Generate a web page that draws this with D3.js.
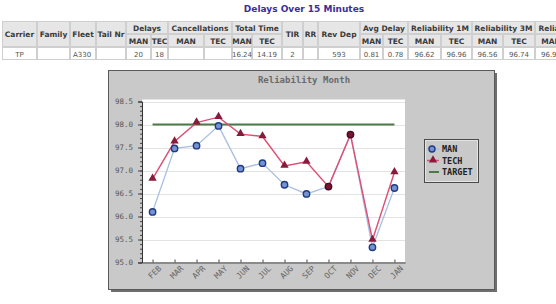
<!DOCTYPE html>
<html>
<head>
<meta charset="utf-8">
<script src="https://cdn.jsdelivr.net/npm/d3@7"></script>
<style>
  body { margin: 0; background: #fff; }
  svg { display: block; }
</style>
</head>
<body>
<div id="chart"></div>
<script>
// data
var months = ["FEB", "MAR", "APR", "MAY", "JUN", "JUL", "AUG", "SEP", "OCT", "NOV", "DEC", "JAN"];
var manValues = [96.1, 97.48, 97.54, 97.97, 97.04, 97.16, 96.69, 96.49, 96.65, 97.78, 95.33, 96.62];
var techValues = [96.82, 97.63, 98.04, 98.16, 97.79, 97.74, 97.1, 97.19, 96.65, 97.78, 95.49, 96.96];
var targetValue = 98.0;
var yTicks = [95.0, 95.5, 96.0, 96.5, 97.0, 97.5, 98.0, 98.5];

// table
var fixedCols = ["Carrier", "Family", "Fleet", "Tail Nr"];
var groupCols = ["Delays", "Cancellations", "Total Time"];
var midCols = ["TIR", "RR", "Rev Dep"];
var groupCols2 = ["Avg Delay", "Reliability 1M", "Reliability 3M", "Reliability 6M"];
var subCols = ["MAN", "TEC"];
var rowValues = ["TP", "", "A330", "", "20", "18", "", "", "16.24", "14.19", "2", "", "593",
                 "0.81", "0.78", "96.62", "96.96", "96.56", "96.74", "96.92", "96.98"];

var svgWidth = 556;
var svgHeight = 304;

var svg = d3.select("#chart")
  .append("svg")
  .attr("width", svgWidth)
  .attr("height", svgHeight);

// ---- title + table ----
svg.append("text")
  .attr("x", 304)
  .attr("y", 12)
  .attr("text-anchor", "middle")
  .style("font-family", "DejaVu Sans")
  .style("font-weight", "bold")
  .style("font-size", "9px")
  .style("fill", "#3b2e9a")
  .text("Delays Over 15 Minutes");

// column edges (layout only)
var colEdges = [2, 37, 70, 96, 126, 151, 168, 204, 232, 252, 282, 303, 318, 360, 383, 408, 441, 472, 503, 535, 567, 600];
var rowTop = 21, rowMid = 34, rowBot = 47, rowEnd = 60;

var table = svg.append("g");
var headFont = function(t) {
  return t.style("font-family", "DejaVu Sans")
    .style("font-weight", "bold")
    .style("font-size", "7.5px")
    .style("fill", "#3a3a3a")
    .attr("text-anchor", "middle");
};

function cell(x0, x1, y0, y1, fill) {
  table.append("rect")
    .attr("x", x0 + 0.5)
    .attr("y", y0 + 0.5)
    .attr("width", x1 - x0 - 1)
    .attr("height", y1 - y0 - 1)
    .attr("fill", fill)
    .attr("stroke", "#cfcfcf");
}

// header columns: fixed ones span two rows
var headerLayout = [];
fixedCols.forEach(function(c) { headerLayout.push({ name: c, span: 1, group: false }); });
groupCols.forEach(function(c) { headerLayout.push({ name: c, span: 2, group: true }); });
midCols.forEach(function(c) { headerLayout.push({ name: c, span: 1, group: false }); });
groupCols2.forEach(function(c) { headerLayout.push({ name: c, span: 2, group: true }); });

var ci = 0;
headerLayout.forEach(function(h) {
  var x0 = colEdges[ci], x1 = colEdges[ci + h.span];
  if (h.group) {
    cell(x0, x1, rowTop, rowMid, "#e6e6e6");
    headFont(table.append("text")).attr("x", (x0 + x1) / 2).attr("y", rowMid - 3.5).text(h.name);
    subCols.forEach(function(s, j) {
      var a = colEdges[ci + j], b = colEdges[ci + j + 1];
      cell(a, b, rowMid, rowBot, "#e6e6e6");
      headFont(table.append("text")).attr("x", (a + b) / 2).attr("y", rowBot - 3.5).text(s);
    });
  } else {
    cell(x0, x1, rowTop, rowBot, "#e6e6e6");
    headFont(table.append("text")).attr("x", (x0 + x1) / 2).attr("y", rowMid + 3).text(h.name);
  }
  ci += h.span;
});

rowValues.forEach(function(v, i) {
  var a = colEdges[i], b = colEdges[i + 1];
  cell(a, b, rowBot, rowEnd, "#ffffff");
  var leftAlign = (i === 2);
  table.append("text")
    .attr("x", leftAlign ? a + 3 : (a + b) / 2)
    .attr("y", rowEnd - 3.5)
    .attr("text-anchor", leftAlign ? "start" : "middle")
    .style("font-family", "DejaVu Sans")
    .style("font-size", "7px")
    .style("fill", "#555")
    .text(v);
});

// ---- chart panel ----
var panel = { x: 108, y: 70, w: 386, h: 219 };
svg.append("rect")
  .attr("x", panel.x + 3)
  .attr("y", panel.y + 3)
  .attr("width", panel.w)
  .attr("height", panel.h)
  .attr("fill", "#6e6e6e");
svg.append("rect")
  .attr("x", panel.x + 0.5)
  .attr("y", panel.y + 0.5)
  .attr("width", panel.w)
  .attr("height", panel.h)
  .attr("fill", "#c9c9c9")
  .attr("stroke", "#5a5a5a");

svg.append("text")
  .attr("x", 304)
  .attr("y", 83)
  .attr("text-anchor", "middle")
  .style("font-family", "DejaVu Sans Mono")
  .style("font-weight", "bold")
  .style("font-size", "9px")
  .style("fill", "#6a6a6a")
  .text("Reliability Month");

var plot = { left: 142, right: 405, top: 101.5, bottom: 262.5 };

var xScale = d3.scalePoint()
  .domain(months)
  .range([plot.left, plot.right])
  .padding(0.48);

var yScale = d3.scaleLinear()
  .domain([95, 98.5])
  .range([plot.bottom, plot.top]);

svg.append("rect")
  .attr("x", plot.left)
  .attr("y", plot.top - 2)
  .attr("width", plot.right - plot.left)
  .attr("height", plot.bottom - plot.top + 2)
  .attr("fill", "#fff");

// gridlines
svg.append("g")
  .attr("class", "grid")
  .selectAll("line")
  .data(yTicks)
  .enter()
  .append("line")
  .attr("x1", plot.left)
  .attr("x2", plot.right)
  .attr("y1", d => Math.round(yScale(d)) + 0.5)
  .attr("y2", d => Math.round(yScale(d)) + 0.5)
  .attr("stroke", "#e3e3e3");

// y axis
var leftAxis = d3.axisLeft(yScale)
  .tickValues(yTicks)
  .tickSize(4)
  .tickPadding(5)
  .tickFormat(d3.format(".1f"));

var yAxis = svg.append("g")
  .attr("transform", `translate(${plot.left}, 0)`)
  .call(leftAxis);

var minorTicks = d3.range(950, 986, 1).map(d => d / 10);
var yMinor = svg.append("g")
  .attr("transform", `translate(${plot.left}, 0)`)
  .call(d3.axisLeft(yScale).tickValues(minorTicks).tickSize(2).tickFormat(""));
yMinor.select(".domain").remove();
yMinor.selectAll("line").attr("stroke", "#444");

// x axis
var bottomAxis = d3.axisBottom(xScale)
  .tickSizeInner(-3)
  .tickSizeOuter(0)
  .tickPadding(6);

var xAxis = svg.append("g")
  .attr("transform", `translate(0, ${plot.bottom})`)
  .call(bottomAxis);

xAxis.selectAll("text")
  .attr("text-anchor", "end")
  .attr("dx", "0.2em")
  .attr("dy", "0.6em")
  .attr("transform", "rotate(-45)");

[yAxis, xAxis].forEach(function(ax) {
  ax.selectAll(".domain").attr("stroke", "#333");
  ax.selectAll(".tick line").attr("stroke", "#444");
  ax.selectAll("text")
    .style("font-family", "DejaVu Sans Mono")
    .style("font-size", "7.5px")
    .style("fill", "#555");
});
xAxis.selectAll("text").style("font-size", "8px").style("fill", "#666");

// target line
svg.append("line")
  .attr("x1", xScale(months[0]))
  .attr("x2", xScale(months[months.length - 1]))
  .attr("y1", yScale(targetValue))
  .attr("y2", yScale(targetValue))
  .attr("stroke", "#4a7a45")
  .attr("stroke-width", 2);

var line = d3.line()
  .x((d, i) => xScale(months[i]))
  .y(d => yScale(d));

svg.append("path")
  .datum(manValues)
  .attr("d", line)
  .attr("fill", "none")
  .attr("stroke", "#a9bfe2")
  .attr("stroke-width", 1.3);

svg.append("path")
  .datum(techValues)
  .attr("d", line)
  .attr("fill", "none")
  .attr("stroke", "#dc4f75")
  .attr("stroke-width", 1.4);

var triangle = d3.symbol().type(d3.symbolTriangle).size(30);

// MAN markers (dark red where both series meet)
svg.append("g")
  .selectAll("circle")
  .data(manValues)
  .enter()
  .append("circle")
  .attr("cx", (d, i) => xScale(months[i]))
  .attr("cy", d => yScale(d))
  .attr("r", 3.2)
  .attr("fill", (d, i) => d === techValues[i] ? "#7a1432" : "#7393d2")
  .attr("stroke", (d, i) => d === techValues[i] ? "#4a0a1e" : "#1f3a80")
  .attr("stroke-width", 1.4);

// TECH markers
var techPoints = techValues.map((v, i) => ({ month: months[i], value: v, same: v === manValues[i] }));
svg.append("g")
  .selectAll("path")
  .data(techPoints.filter(d => !d.same))
  .enter()
  .append("path")
  .attr("d", triangle)
  .attr("transform", d => "translate(" + xScale(d.month) + "," + (yScale(d.value) - 0.5) + ")")
  .attr("fill", "#8a1a3c");

// legend
var legend = svg.append("g").attr("transform", "translate(424, 139)");
legend.append("rect")
  .attr("x", 0.5).attr("y", 0.5)
  .attr("width", 54).attr("height", 43)
  .attr("fill", "#c9c9c9")
  .attr("stroke", "#4a4a4a");
legend.append("rect")
  .attr("x", 1.5).attr("y", 1.5)
  .attr("width", 52).attr("height", 41)
  .attr("fill", "none")
  .attr("stroke", "#e4e4e4");

var legendItems = ["MAN", "TECH", "TARGET"];
legendItems.forEach(function(name, i) {
  var y = 10 + i * 11.5;
  var item = legend.append("g").attr("transform", `translate(0, ${y})`);
  if (name === "MAN") {
    item.append("line").attr("x1", 3).attr("x2", 15).attr("stroke", "#a9bfe2").attr("stroke-width", 1.3);
    item.append("circle").attr("cx", 8).attr("r", 3).attr("fill", "#7393d2").attr("stroke", "#1f3a80").attr("stroke-width", 1.4);
  } else if (name === "TECH") {
    item.append("line").attr("x1", 3).attr("x2", 15).attr("stroke", "#dc4f75").attr("stroke-width", 1.4);
    item.append("path").attr("d", triangle).attr("transform", "translate(9,-0.5)").attr("fill", "#8a1a3c");
  } else {
    item.append("line").attr("x1", 5).attr("x2", 15).attr("stroke", "#4a7a45").attr("stroke-width", 2);
  }
  item.append("text")
    .attr("x", 18)
    .attr("y", 3)
    .style("font-family", "DejaVu Sans Mono")
    .style("font-weight", "bold")
    .style("font-size", "8.5px")
    .style("fill", "#222")
    .text(name);
});
</script>
</body>
</html>
